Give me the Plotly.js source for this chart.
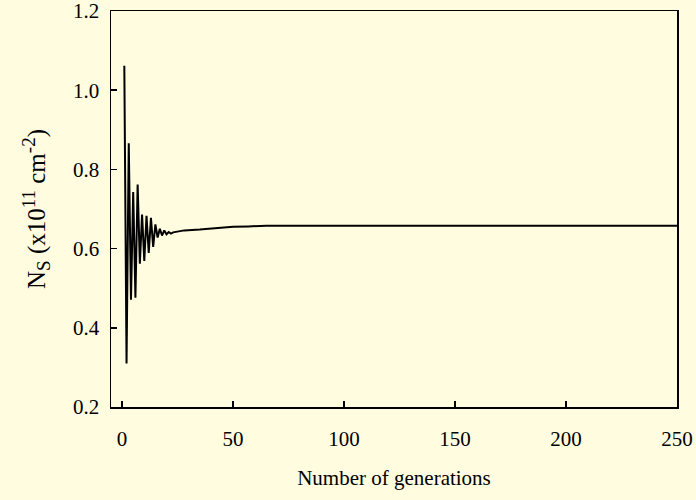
<!DOCTYPE html>
<html>
<head>
<meta charset="utf-8">
<script src="https://cdn.plot.ly/plotly-3.0.1.min.js"></script>
<style>
html,body{margin:0;padding:0;background:#FFFCE0;}
#chart{width:696px;height:500px;}
</style>
</head>
<body>
<div id="chart"></div>
<script>
const generations = [1,2,3,4,5,6,7,8,9,10,11,12,13,14,15,16,17,18,19,20,21,22,23,28,35,41,44,50,57,65,100,150,200,250];
const nsValues = [1.062,0.31,0.866,0.471,0.743,0.476,0.762,0.562,0.686,0.569,0.683,0.589,0.678,0.604,0.661,0.628,0.650,0.633,0.646,0.636,0.642,0.638,0.641,0.646,0.648,0.651,0.652,0.655,0.656,0.658,0.658,0.658,0.658,0.658];
const xTicks = [0,50,100,150,200,250];
const yTicks = [0.2,0.4,0.6,0.8,1.0,1.2];

const trace = {
  x: generations,
  y: nsValues,
  type: 'scatter',
  mode: 'lines',
  line: {color: '#000000', width: 2},
  hoverinfo: 'skip'
};

const serif = '"Liberation Serif", "Times New Roman", serif';
const tickFont = {family: serif, size: 21, color: '#000'};
const titleFont = {family: serif, size: 21, color: '#000'};
const yTitleFont = {family: serif, size: 25, color: '#000'};

const layout = {
  width: 696,
  height: 500,
  paper_bgcolor: '#FFFCE0',
  plot_bgcolor: '#FFFCE0',
  margin: {l: 111, r: 19, t: 11, b: 93},
  showlegend: false,
  font: tickFont,
  xaxis: {
    range: [-5, 250],
    tickvals: xTicks,
    ticktext: xTicks.map(String),
    ticks: 'inside',
    ticklen: 6,
    tickwidth: 1.5,
    tickcolor: '#000',
    showline: true,
    linecolor: '#000',
    linewidth: 1.5,
    mirror: true,
    showgrid: false,
    zeroline: false,
    tickfont: tickFont,
    ticklabelstandoff: 12,
    ticklabeloverflow: 'allow',
    title: {text: 'Number of generations', font: titleFont, standoff: 20}
  },
  yaxis: {
    range: [0.2, 1.2],
    tickvals: yTicks,
    ticktext: yTicks.map(v => v.toFixed(1)),
    ticks: 'inside',
    ticklen: 6,
    tickwidth: 1.5,
    tickcolor: '#000',
    showline: true,
    linecolor: '#000',
    linewidth: 1.5,
    mirror: true,
    showgrid: false,
    zeroline: false,
    tickfont: tickFont,
    ticklabelstandoff: 6,
    ticklabeloverflow: 'allow',
    title: {
      text: 'N<sub><span style="font-size:19px">S</span></sub> (x10<sup><span style="font-size:19px">11</span></sup> cm<sup><span style="font-size:19px">-2</span></sup>)',
      font: yTitleFont,
      standoff: 20
    }
  }
};

Plotly.newPlot('chart', [trace], layout, {displayModeBar: false, staticPlot: true});
</script>
</body>
</html>
